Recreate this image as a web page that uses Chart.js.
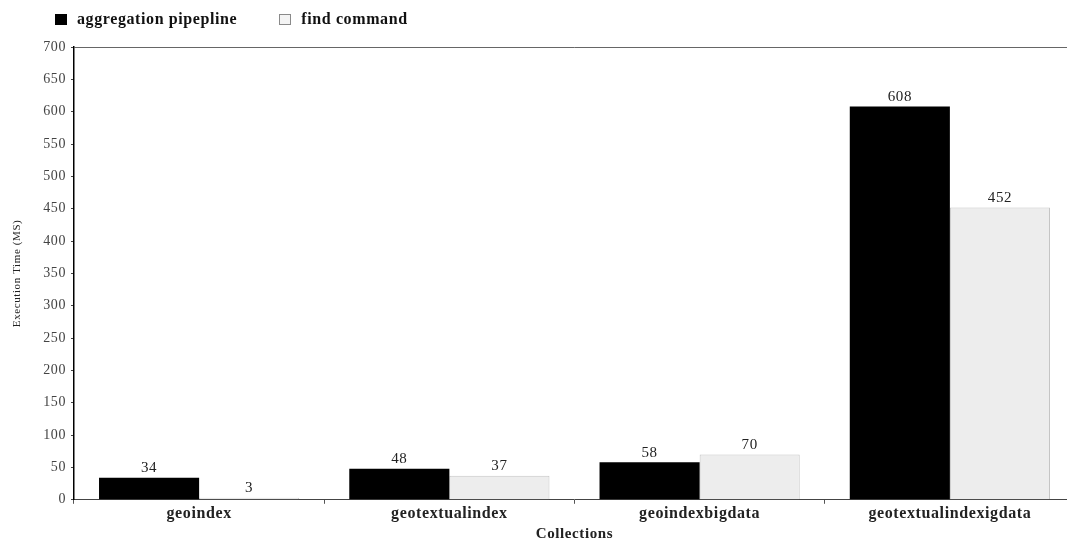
<!DOCTYPE html>
<html>
<head>
<meta charset="utf-8">
<script src="https://cdn.jsdelivr.net/npm/chart.js@4.4.1/dist/chart.umd.min.js"></script>
<style>
  html, body { margin: 0; padding: 0; background: #fff; overflow: hidden; }
  #wrap { position: relative; width: 1080px; height: 543px; }
  #legend {
    position: absolute; left: 55px; top: 10px;
    display: flex; gap: 42px; align-items: center;
    font: bold 16px 'Liberation Serif', 'DejaVu Serif', serif;
    letter-spacing: 0.6px; color: #111;
  }
  #legend .item { display: flex; align-items: center; gap: 10px; }
  #legend .box { width: 12px; height: 11px; box-sizing: border-box; }
</style>
</head>
<body>
<div id="wrap">
  <div id="legend"></div>
  <canvas id="chart"></canvas>
</div>
<script>
// ── DATA ──
const categories = ['geoindex', 'geotextualindex', 'geoindexbigdata', 'geotextualindexigdata'];
const aggregationPipeline = [34, 48, 58, 608];
const findCommand = [3, 37, 70, 452];
const seriesNames = ['aggregation pipepline', 'find command'];
const yMin = 0, yMax = 700, yStep = 50;

const SERIF = "'Liberation Serif', 'DejaVu Serif', serif";
const SPACING = '0.6px';

// the source text is drawn wide, so widen the canvas text a bit
const letterSpacing = {
  id: 'letterSpacing',
  beforeUpdate(chart) { chart.ctx.letterSpacing = SPACING; },
  beforeLayout(chart) { chart.ctx.letterSpacing = SPACING; },
  beforeDraw(chart)   { chart.ctx.letterSpacing = SPACING; },
};

// ── VALUE LABELS ABOVE BARS ──
const valueLabels = {
  id: 'valueLabels',
  afterDatasetsDraw(chart) {
    const { ctx } = chart;
    ctx.save();
    ctx.font = '15px ' + SERIF;
    ctx.fillStyle = '#222';
    ctx.textAlign = 'center';
    ctx.textBaseline = 'bottom';
    chart.data.datasets.forEach((ds, i) => {
      chart.getDatasetMeta(i).data.forEach((bar, j) => {
        ctx.fillText(ds.data[j], bar.x, bar.y - 2);
      });
    });
    ctx.restore();
  },
};

// ── HTML LEGEND ──
const htmlLegend = {
  id: 'htmlLegend',
  afterUpdate(chart) {
    const el = document.getElementById('legend');
    el.innerHTML = '';
    chart.data.datasets.forEach(ds => {
      const item = document.createElement('div');
      item.className = 'item';
      const box = document.createElement('span');
      box.className = 'box';
      box.style.background = ds.legendFill;
      box.style.border = '1px solid ' + ds.legendBorder;
      const txt = document.createElement('span');
      txt.textContent = ds.label;
      item.appendChild(box);
      item.appendChild(txt);
      el.appendChild(item);
    });
  },
};

const ctx = document.getElementById('chart').getContext('2d');
new Chart(ctx, {
  type: 'bar',
  data: {
    labels: categories,
    datasets: [
      {
        label: seriesNames[0],
        data: aggregationPipeline,
        backgroundColor: '#000',
        borderColor: '#000',
        borderWidth: 0,
        legendFill: '#000',
        legendBorder: '#000',
      },
      {
        label: seriesNames[1],
        data: findCommand,
        backgroundColor: '#ededed',
        borderColor: '#c4c4c4',
        borderWidth: 1,
        legendFill: '#f4f4f4',
        legendBorder: '#8a8a8a',
      },
    ],
  },
  options: {
    responsive: true,
    maintainAspectRatio: false,
    animation: false,
    layout: { padding: { left: 11, right: 5, top: 47, bottom: 0 } },
    datasets: { bar: { categoryPercentage: 0.8, barPercentage: 1.0 } },
    plugins: {
      legend: { display: false },
      tooltip: { enabled: false },
    },
    scales: {
      x: {
        ticks: { color: '#222', font: { family: SERIF, size: 16, weight: 'bold' }, padding: 0 },
        grid: { drawOnChartArea: false, color: '#555', tickLength: 4 },
        border: { color: '#444', width: 1 },
        title: {
          display: true,
          text: 'Collections',
          color: '#222',
          font: { family: SERIF, size: 15, weight: 'bold' },
          padding: { top: 2, bottom: 0 },
        },
      },
      y: {
        min: yMin,
        max: yMax,
        ticks: { stepSize: yStep, color: '#444', font: { family: SERIF, size: 14 }, padding: 5 },
        grid: {
          color: c => (c.tick && c.tick.value === yMax ? '#666' : 'rgba(0,0,0,0)'),
          tickColor: '#444',
          tickLength: 3,
        },
        border: { color: '#000', width: 1.5 },
        title: {
          display: true,
          text: 'Execution Time (MS)',
          color: '#222',
          font: { family: SERIF, size: 11 },
          padding: { top: 0, bottom: 14 },
        },
      },
    },
  },
  plugins: [letterSpacing, valueLabels, htmlLegend],
});
</script>
</body>
</html>
